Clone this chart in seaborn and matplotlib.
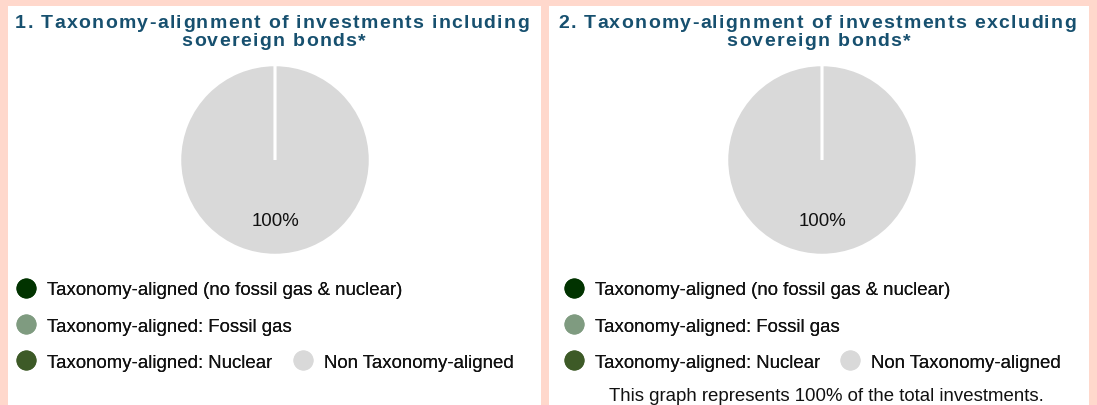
import numpy as np
import matplotlib
matplotlib.use("Agg")
import matplotlib.pyplot as plt
import seaborn as sns
from matplotlib import font_manager
from matplotlib.ft2font import FT2Font
from matplotlib.lines import Line2D
from matplotlib.patches import Rectangle

# dados
categorias = ["Taxonomy-aligned (no fossil gas & nuclear)",
              "Taxonomy-aligned: Fossil gas",
              "Taxonomy-aligned: Nuclear",
              "Non Taxonomy-aligned"]
valores_incl = [0, 0, 0, 100]
valores_excl = [0, 0, 0, 100]
cores = ["#013300", "#7f9b80", "#3d5a27", "#d9d9d9"]
titulos = [["1. Taxonomy-alignment of investments including", "sovereign bonds*"],
           ["2. Taxonomy-alignment of investments excluding", "sovereign bonds*"]]
nota = "This graph represents 100% of the total investments."

W, H = 1097, 406
FS = 13.4  # tamanho do texto normal
sns.set_theme(style="white")
plt.rcParams["font.family"] = ["Liberation Sans", "DejaVu Sans"]

fig = plt.figure(figsize=(W / 100, H / 100), dpi=100)
fig.patch.set_facecolor("#ffd8cc")


def fx(px):
    return px / W


def fy(py):
    return 1 - py / H


# paineis brancos (atras de tudo)
for x0, x1 in [(8, 541), (549, 1089)]:
    fig.patches.append(Rectangle((fx(x0), 0), fx(x1) - fx(x0), fy(7), transform=fig.transFigure,
                                 facecolor="white", edgecolor="none", zorder=-5))

# titulo com espacamento entre letras
path_bold = font_manager.findfont(font_manager.FontProperties(family="Liberation Sans", weight="bold"))
ft = FT2Font(path_bold)
TFS = 14
ft.set_size(TFS, 100)


def texto_espacado(s, cx, base, spacing=1.35, cor="#17506f"):
    adv = [ft.load_char(ord(c)).linearHoriAdvance / 65536 for c in s]
    total = sum(adv) + spacing * (len(s) - 1)
    x = cx - total / 2
    for c, a in zip(s, adv):
        fig.text(fx(x), fy(base), c, ha="left", va="baseline", fontsize=TFS,
                 fontweight="bold", color=cor)
        x += a + spacing


centros = [272, 817]
for cx, tt in zip(centros, titulos):
    texto_espacado(tt[0], cx, 27.5)
    texto_espacado(tt[1], cx + 1.5, 46.5)

# pizzas
pie_cx = [275, 822]
for cx, vals in zip(pie_cx, [valores_incl, valores_excl]):
    ax = fig.add_axes([fx(cx - 95), fy(161 + 95), 190 / W, 190 / H])
    fatias, _, _ = ax.pie(vals, colors=cores, startangle=90, counterclock=True,
                          autopct=lambda p: f"{p:.0f}%" if p > 0 else "", pctdistance=0.64,
                          wedgeprops=dict(edgecolor="white", linewidth=1.8),
                          textprops=dict(fontsize=FS, color="#111111"))
    # fatias vazias por cima para aparecer a linha branca
    for f, v in zip(fatias, vals):
        if v == 0:
            f.set_zorder(3)
    ax.set_xlim(-1.0, 1.0)
    ax.set_ylim(-1.0, 1.0)
    ax.axis("off")

# legendas
handles = [Line2D([], [], linestyle="none", marker="o", markersize=14.4,
                  markerfacecolor=c, markeredgecolor="none") for c in cores]
hl = 20 / (FS * 100 / 72)
leg_kw = dict(frameon=False, fontsize=FS, borderpad=0, borderaxespad=0,
              handlelength=hl, handletextpad=0.6, labelcolor="#111111",
              bbox_transform=fig.transFigure, loc="center left")
for x_ini, x_non in [(16, 293), (564, 840)]:
    l1 = fig.legend(handles[:3], categorias[:3], bbox_to_anchor=(fx(x_ini), fy(327)),
                    labelspacing=1.04, **leg_kw)
    fig.add_artist(l1)
    l2 = fig.legend(handles[3:], categorias[3:], bbox_to_anchor=(fx(x_non), fy(363)), **leg_kw)
    fig.add_artist(l2)

fig.text(fx(826), fy(401), nota, ha="center", va="baseline", fontsize=FS, color="#111111")

plt.savefig("out.png", dpi=100, facecolor=fig.get_facecolor())
